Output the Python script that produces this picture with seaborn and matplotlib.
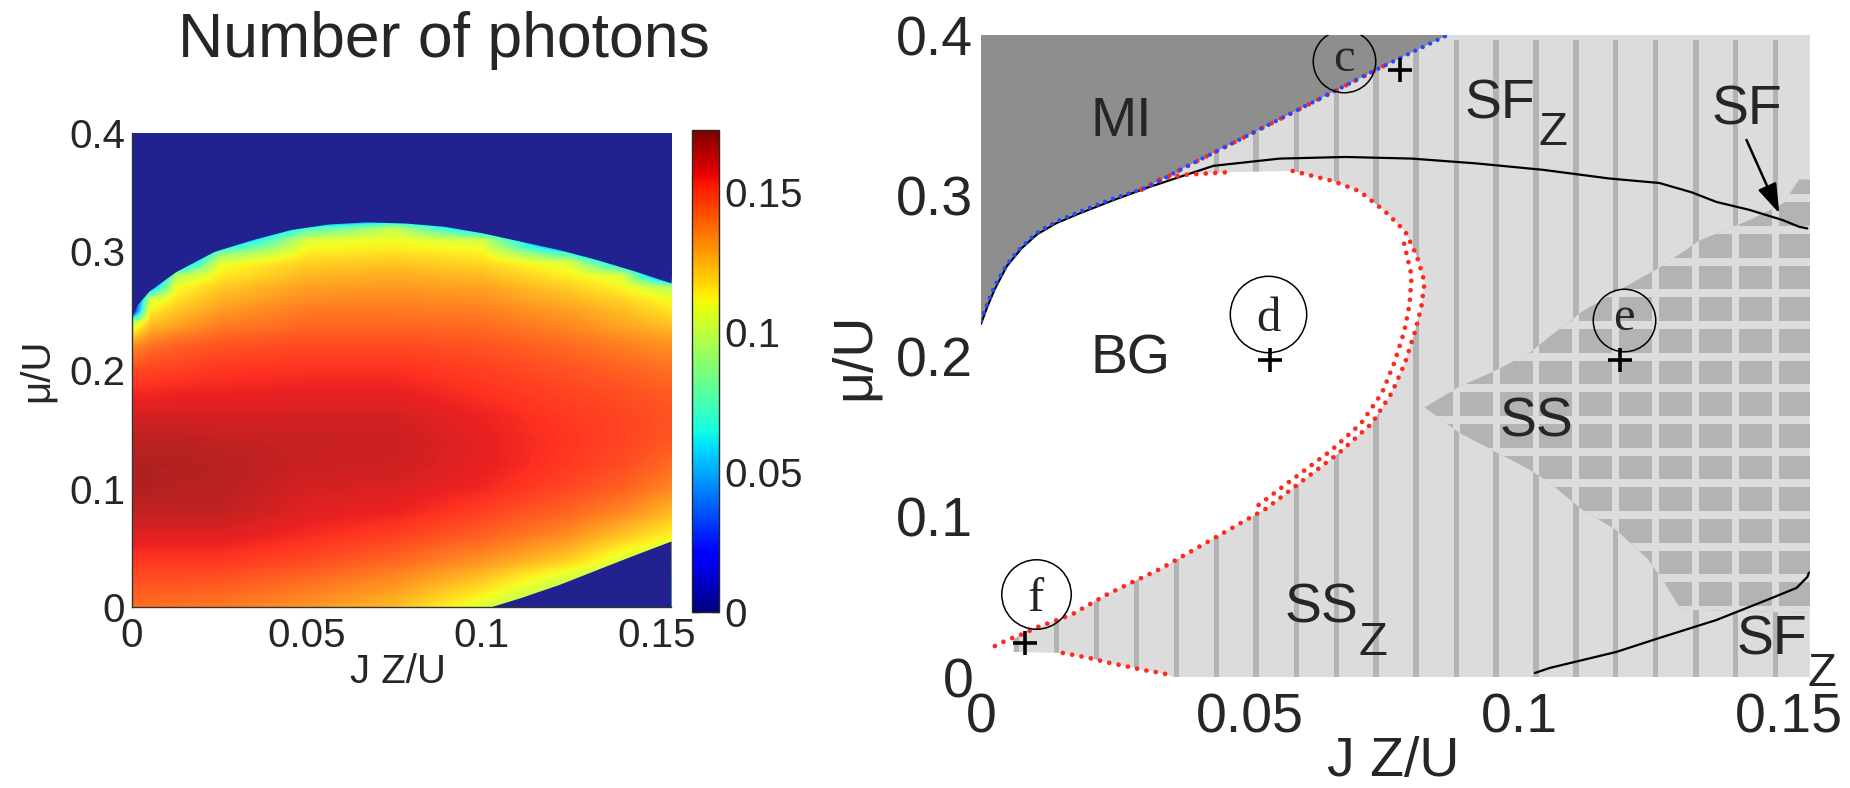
import numpy as np
import matplotlib
matplotlib.use("Agg")
import matplotlib.pyplot as plt
import seaborn as sns
from matplotlib.colors import ListedColormap, Normalize
from matplotlib.cm import ScalarMappable
from matplotlib.patches import Polygon, ArrowStyle
from matplotlib.transforms import Bbox, TransformedBbox

# ---------------- photon number map (left panel) ----------------
J_COLS = [0.0, 0.005, 0.0125, 0.025, 0.05, 0.075, 0.1, 0.125, 0.14, 0.154]
MU_ROWS = [0.00, 0.02, 0.04, 0.06, 0.08, 0.10, 0.12, 0.14, 0.16, 0.18, 0.20, 0.22,
           0.24, 0.25, 0.26, 0.27, 0.28, 0.29, 0.30, 0.31, 0.32, 0.33, 0.34]

n_j0000 = [0.140, 0.146, 0.152, 0.158, 0.163, 0.166, 0.166, 0.164, 0.160, 0.155, 0.148, 0.134,
           0.100, 0.012, 0.0, 0.0, 0.0, 0.0, 0.0, 0.0, 0.0, 0.0, 0.0]
n_j0050 = [0.140, 0.146, 0.152, 0.158, 0.163, 0.166, 0.166, 0.164, 0.160, 0.155, 0.149, 0.140,
           0.122, 0.114, 0.103, 0.040, 0.0, 0.0, 0.0, 0.0, 0.0, 0.0, 0.0]
n_j0125 = [0.139, 0.146, 0.152, 0.158, 0.163, 0.165, 0.166, 0.164, 0.160, 0.156, 0.150, 0.143,
           0.128, 0.122, 0.116, 0.110, 0.095, 0.030, 0.0, 0.0, 0.0, 0.0, 0.0]
n_j0250 = [0.138, 0.145, 0.152, 0.158, 0.163, 0.165, 0.165, 0.163, 0.160, 0.156, 0.152, 0.146,
           0.136, 0.131, 0.126, 0.121, 0.114, 0.108, 0.080, 0.030, 0.0, 0.0, 0.0]
n_j0500 = [0.132, 0.140, 0.148, 0.154, 0.158, 0.160, 0.162, 0.162, 0.160, 0.157, 0.153, 0.148,
           0.141, 0.138, 0.134, 0.130, 0.125, 0.120, 0.113, 0.107, 0.070, 0.000, 0.0]
n_j0750 = [0.124, 0.133, 0.142, 0.150, 0.156, 0.159, 0.161, 0.162, 0.160, 0.157, 0.153, 0.148,
           0.141, 0.138, 0.135, 0.131, 0.127, 0.122, 0.116, 0.110, 0.100, 0.020, 0.0]
n_j1000 = [0.106, 0.120, 0.133, 0.143, 0.150, 0.155, 0.157, 0.157, 0.156, 0.153, 0.150, 0.146,
           0.140, 0.137, 0.133, 0.129, 0.124, 0.118, 0.112, 0.103, 0.040, 0.0, 0.0]
n_j1250 = [0.085, 0.100, 0.120, 0.133, 0.142, 0.148, 0.151, 0.152, 0.151, 0.149, 0.146, 0.141,
           0.134, 0.130, 0.125, 0.120, 0.113, 0.106, 0.060, 0.0, 0.0, 0.0, 0.0]
n_j1400 = [0.080, 0.090, 0.105, 0.122, 0.135, 0.143, 0.147, 0.149, 0.149, 0.147, 0.143, 0.137,
           0.128, 0.124, 0.119, 0.112, 0.104, 0.048, 0.0, 0.0, 0.0, 0.0, 0.0]
n_j1540 = [0.070, 0.085, 0.098, 0.112, 0.125, 0.135, 0.141, 0.145, 0.146, 0.144, 0.140, 0.133,
           0.122, 0.116, 0.110, 0.096, 0.007, 0.0, 0.0, 0.0, 0.0, 0.0, 0.0]

# edges of the non-zero photon domain
edge_top_j = [0.0, 0.0016, 0.0049, 0.0126, 0.0235, 0.0345, 0.0454, 0.0564, 0.0673,
              0.0783, 0.0892, 0.1002, 0.111, 0.122, 0.133, 0.1439, 0.154]
edge_top_mu = [0.244, 0.255, 0.2665, 0.283, 0.300, 0.310, 0.3185, 0.3233, 0.325,
               0.324, 0.3213, 0.3157, 0.3087, 0.3016, 0.293, 0.2833, 0.2735]
edge_low_j = [0.1023, 0.111, 0.122, 0.133, 0.1439, 0.154]
edge_low_mu = [0.0, 0.0079, 0.019, 0.0318, 0.0444, 0.0557]

CBAR_TICKS = [0, 0.05, 0.1, 0.15]
CBAR_LABELS = ["0", "0.05", "0.1", "0.15"]
N_MAX = 0.172

# ---------------- phase diagram (right panel) ----------------
mi_edge_j = [0.0, 0.0012, 0.0026, 0.0048, 0.0075, 0.0104, 0.0140, 0.0184, 0.0245,
             0.0308, 0.037, 0.0493, 0.0616, 0.0738, 0.0867]
mi_edge_mu = [0.222, 0.233, 0.244, 0.257, 0.268, 0.2768, 0.2838, 0.290, 0.298,
              0.305, 0.316, 0.337, 0.358, 0.379, 0.400]

bg_j = [0.0, 0.0012, 0.0026, 0.0048, 0.0075, 0.0104, 0.0140, 0.0184, 0.0245, 0.0300,
        0.0334, 0.0383, 0.0457, 0.0579, 0.0654, 0.0703, 0.0751, 0.0788, 0.0810, 0.0824,
        0.0818, 0.0806, 0.0788, 0.0763, 0.0726, 0.0665, 0.0604, 0.0530, 0.0432, 0.0334,
        0.0236, 0.0169, 0.0132, 0.0106, 0.0072, 0.0060, 0.0060, 0.0152, 0.0202, 0.0240,
        0.0277, 0.0300, 0.0336, 0.0356, 0.0]
bg_mu = [0.222, 0.233, 0.244, 0.257, 0.268, 0.2768, 0.2838, 0.290, 0.298, 0.304,
         0.3106, 0.313, 0.3145, 0.3153, 0.309, 0.3027, 0.290, 0.2776, 0.262, 0.246,
         0.2306, 0.215, 0.196, 0.177, 0.158, 0.1396, 0.124, 0.105, 0.0863, 0.0675,
         0.0518, 0.039, 0.0343, 0.0312, 0.026, 0.0235, 0.0156, 0.015, 0.0118, 0.0087,
         0.0062, 0.0044, 0.0025, 0.0, 0.0]

ss_j = [0.0824, 0.0889, 0.0950, 0.1019, 0.1056, 0.1118, 0.1180, 0.1260, 0.1335, 0.1430,
        0.1490, 0.1520, 0.1545, 0.1545, 0.1300, 0.1270, 0.1240, 0.1180, 0.1118, 0.1056,
        0.1020, 0.0950, 0.0889]
ss_mu = [0.168, 0.181, 0.190, 0.202, 0.212, 0.228, 0.240, 0.255, 0.272, 0.285,
         0.295, 0.310, 0.310, 0.040, 0.042, 0.0586, 0.073, 0.0916, 0.104, 0.121,
         0.129, 0.1414, 0.152]

stripe_j = [0.0066, 0.0140, 0.0214, 0.0289, 0.0363, 0.0437, 0.0511, 0.0586, 0.0660, 0.0734,
            0.0808, 0.0883, 0.0957, 0.1031, 0.1105, 0.1179, 0.1253, 0.1328, 0.1402, 0.1476]
ss_rows_mu = [0.0417, 0.0615, 0.0812, 0.1009, 0.1206, 0.1404, 0.1601, 0.1799, 0.1996,
              0.2193, 0.2391, 0.2588, 0.2785, 0.2983]

dome_j = [0.0, 0.0012, 0.0026, 0.0048, 0.0075, 0.0104, 0.0140, 0.0184, 0.0245, 0.031,
          0.0432, 0.0555, 0.0677, 0.080, 0.092, 0.1044, 0.1167, 0.126, 0.132, 0.1366,
          0.1428, 0.1489, 0.152, 0.1535]
dome_mu = [0.220, 0.231, 0.242, 0.256, 0.267, 0.2758, 0.2828, 0.289, 0.297, 0.305,
           0.3185, 0.323, 0.324, 0.323, 0.320, 0.316, 0.3106, 0.3078, 0.302, 0.296,
           0.291, 0.2847, 0.2805, 0.2795]

sfz_j = [0.1029, 0.1056, 0.118, 0.126, 0.1366, 0.146, 0.1515, 0.1535, 0.1538]
sfz_mu = [0.0025, 0.0056, 0.0156, 0.0243, 0.0355, 0.048, 0.0555, 0.0623, 0.065]

red_top_j = [0.0300, 0.0334, 0.0383, 0.0457]
red_top_mu = [0.3040, 0.3106, 0.3130, 0.3145]
red_arc_j = [0.0579, 0.0654, 0.0703, 0.0751, 0.0788, 0.0810, 0.0824, 0.0818, 0.0806, 0.0788,
             0.0763, 0.0726, 0.0665, 0.0604, 0.0530, 0.0432, 0.0334, 0.0236, 0.0169, 0.0132,
             0.0106, 0.0072, 0.0048, 0.0011]
red_arc_mu = [0.3153, 0.3090, 0.3027, 0.2900, 0.2776, 0.2620, 0.2460, 0.2306, 0.2150, 0.1960,
              0.1770, 0.1580, 0.1396, 0.1240, 0.1050, 0.0863, 0.0675, 0.0518, 0.0390, 0.0343,
              0.0312, 0.0260, 0.0230, 0.0168]
red_in_j = [0.0786, 0.0800, 0.0796, 0.0786, 0.0768, 0.0745, 0.0706, 0.0650, 0.0590, 0.0515]
red_in_mu = [0.270, 0.250, 0.232, 0.215, 0.196, 0.177, 0.158, 0.141, 0.126, 0.107]
red_low_j = [0.0152, 0.0202, 0.0240, 0.0277, 0.0300, 0.0336, 0.0356]
red_low_mu = [0.0150, 0.0118, 0.0087, 0.0062, 0.0044, 0.0025, 0.0006]
red_mi_j = [0.0290, 0.0308, 0.037, 0.0493, 0.0616, 0.0750]
red_mi_mu = [0.3025, 0.305, 0.316, 0.337, 0.358, 0.381]

point_names = ["c", "d", "e", "f"]
point_j = [0.0778, 0.0537, 0.1187, 0.0082]
point_mu = [0.378, 0.1975, 0.1975, 0.0212]
circle_j = [0.0675, 0.0534, 0.1194, 0.0102]
circle_mu = [0.384, 0.2259, 0.2224, 0.0517]
circle_size = [45, 55, 45, 50]

TICKS_J = [0, 0.05, 0.1, 0.15]
TICK_J_LABELS = ["0", "0.05", "0.1", "0.15"]
TICKS_MU = [0, 0.1, 0.2, 0.3, 0.4]
TICK_MU_LABELS = ["0", "0.1", "0.2", "0.3", "0.4"]
J_MAX = 0.154
MU_MAX = 0.4

# ---------------- figure ----------------
sns.set_theme(style="white")
plt.rcParams["font.family"] = ["Liberation Sans", "DejaVu Sans"]

W, H = 1850, 788
fig = plt.figure(figsize=(W / 100, H / 100), dpi=100)
fig.patch.set_facecolor("white")


def frac_axes(x0, y0, x1, y1):
    return fig.add_axes([x0 / W, 1 - y1 / H, (x1 - x0) / W, (y1 - y0) / H])


ax1 = frac_axes(131.6, 133, 671, 607)
cax = frac_axes(692, 130, 719, 612)
ax2 = frac_axes(981, 35, 1810, 677)

# ---- left: photon number ----
jet = plt.get_cmap("jet")
soft = jet(np.linspace(0, 1, 256))
soft[:, :3] = soft[:, :3] * 0.87 + 0.13
soft_jet = ListedColormap(soft)
norm = Normalize(0, N_MAX)

photons = np.column_stack([n_j0000, n_j0050, n_j0125, n_j0250, n_j0500,
                           n_j0750, n_j1000, n_j1250, n_j1400, n_j1540])
# bilinear resampling of the table onto the display raster
fine_j = np.linspace(0, J_MAX, 540)
fine_mu = np.linspace(0, MU_MAX, 480)
by_col = np.array([np.interp(fine_mu, MU_ROWS, photons[:, k]) for k in range(len(J_COLS))])
field = np.array([np.interp(fine_j, J_COLS, by_col[:, r]) for r in range(len(fine_mu))])
ax1.imshow(field, origin="lower", extent=(0, J_MAX, 0, MU_MAX), aspect="auto",
           cmap=soft_jet, norm=norm, interpolation="nearest", zorder=1)
outside = soft_jet(0.0)
ax1.fill_between(edge_top_j, edge_top_mu, MU_MAX, color=outside, lw=0, zorder=2)
ax1.fill_between(edge_low_j, 0, edge_low_mu, color=outside, lw=0, zorder=2)
ax1.set_xlim(0, J_MAX)
ax1.set_ylim(0, MU_MAX)
ax1.set_axisbelow(True)
ax1.set_xticks(TICKS_J)
ax1.set_xticklabels(TICK_J_LABELS)
ax1.set_yticks(TICKS_MU)
ax1.set_yticklabels(TICK_MU_LABELS)
ax1.tick_params(axis="x", labelsize=29, pad=7, length=0)
ax1.tick_params(axis="y", labelsize=29, pad=4.5, length=0)
for side in ["top", "right"]:
    ax1.spines[side].set_visible(False)
for side in ["left", "bottom"]:
    ax1.spines[side].set_color("#333333")
    ax1.spines[side].set_linewidth(1.0)
    ax1.spines[side].set_zorder(3)

ax1.set_ylabel("μ/U", fontsize=29)
ax1.yaxis.set_label_coords(-0.140, 0.5)
xl1 = ax1.set_xlabel("J Z/U", fontsize=29)
ax1.xaxis.set_label_coords(0.494, -0.097)
xl1.set_clip_box(TransformedBbox(Bbox.from_extents(0, 1 - 683 / H, 1, 1), fig.transFigure))
xl1.set_clip_on(True)

sm = ScalarMappable(norm=norm, cmap=jet)
cb = fig.colorbar(sm, cax=cax)
cb.set_ticks(CBAR_TICKS)
cb.set_ticklabels(CBAR_LABELS)
cb.outline.set_linewidth(1.0)
cax.tick_params(direction="in", length=6, width=1, labelsize=29, pad=4,
                left=True, right=True)

fig.text(444 / W, 1 - 40 / H, "Number of photons", fontsize=45,
         ha="center", va="center")

# ---- right: phase diagram ----
LIGHT = "#dcdcdc"
MID = "#b3b3b3"
DARK = "#8e8e8e"
RED = "#ff2a1e"
BLUE = "#2448ff"

ax2.set_xlim(0, J_MAX)
ax2.set_ylim(0, MU_MAX)
ax2.set_facecolor(LIGHT)
for side in ax2.spines.values():
    side.set_visible(False)

for xs in stripe_j:
    ax2.axvspan(xs - 0.0005, xs + 0.0005, ymax=0.992, color=MID, lw=0, zorder=1)

ss_patch = Polygon(np.column_stack([ss_j, ss_mu]), closed=True, facecolor=MID,
                   edgecolor="none", zorder=2)
ax2.add_patch(ss_patch)
for xs in stripe_j:
    v = ax2.axvspan(xs - 0.00065, xs + 0.00065, color=LIGHT, lw=0, zorder=3)
    v.set_clip_path(ss_patch)
for ys in ss_rows_mu:
    h = ax2.axhspan(ys - 0.0025, ys + 0.0025, color=LIGHT, lw=0, zorder=3)
    h.set_clip_path(ss_patch)

ax2.add_patch(Polygon(np.column_stack([bg_j, bg_mu]), closed=True, facecolor="white",
                      edgecolor="none", zorder=4))
mi_poly = np.column_stack([mi_edge_j + [0.0], mi_edge_mu + [MU_MAX]])
ax2.add_patch(Polygon(mi_poly, closed=True, facecolor=DARK, edgecolor="none", zorder=4))

# phase boundaries
sns.lineplot(x=dome_j, y=dome_mu, ax=ax2, color="black", linewidth=1.6,
             sort=False, estimator=None, zorder=6)
sns.lineplot(x=sfz_j, y=sfz_mu, ax=ax2, color="black", linewidth=1.6,
             sort=False, estimator=None, zorder=6)

red_kw = dict(color=RED, lw=3.4, dash_capstyle="round", solid_capstyle="round", zorder=7)
for xs, ys in [(red_top_j, red_top_mu), (red_arc_j, red_arc_mu),
               (red_in_j, red_in_mu), (red_low_j, red_low_mu)]:
    ax2.plot(xs, ys, linestyle=(0, (0.01, 2.0)), **red_kw)
ax2.plot(red_mi_j, red_mi_mu, linestyle=(1.2, (0.01, 2.2)), **red_kw)
ax2.plot(mi_edge_j, mi_edge_mu, color=BLUE, lw=3.1, linestyle=(0, (0.01, 1.9)),
         dash_capstyle="round", zorder=7)

# marked points
sns.scatterplot(x=point_j, y=point_mu, ax=ax2, marker="+", s=290, color="black",
                linewidth=2.6, zorder=8, legend=False)
for name, cj, cm, size in zip(point_names, circle_j, circle_mu, circle_size):
    ax2.plot([cj], [cm], marker="o", ms=size, mfc="none", mec="black", mew=1.1,
             ls="none", zorder=8)
    lift = 5 if name in ("c", "e") else 0
    ax2.annotate(name, xy=(cj, cm), xytext=(0, lift), textcoords="offset points",
                 ha="center", va="center_baseline", fontsize=35,
                 family=["Liberation Serif", "DejaVu Serif"], zorder=9)

# phase names
label_kw = dict(fontsize=40, ha="center", va="center_baseline", zorder=9)
sub_kw = dict(fontsize=34, ha="center", va="center_baseline", zorder=9)
ax2.text(0.026, 0.3495, "MI", **label_kw)
ax2.text(0.0277, 0.2016, "BG", **label_kw)
ax2.text(0.0964, 0.3607, "SF", **label_kw)
ax2.text(0.1062, 0.342, "Z", **sub_kw)
ax2.text(0.1422, 0.3564, "SF", **label_kw)
ax2.text(0.1032, 0.162, "SS", **label_kw)
ax2.text(0.0633, 0.0464, "SS", **label_kw)
ax2.text(0.0728, 0.0246, "Z", **sub_kw)
ax2.text(0.1469, 0.0262, "SF", **label_kw)
ax2.text(0.1563, 0.0050, "Z", clip_on=False, **sub_kw)

ax2.annotate("", xy=(0.1483, 0.2889), xytext=(0.1422, 0.3346),
             arrowprops=dict(arrowstyle=ArrowStyle("-|>", head_length=0.9, head_width=0.3),
                             color="black", lw=1.8, mutation_scale=20,
                             shrinkA=0, shrinkB=0), zorder=9)

ax2.set_xticks(TICKS_J)
ax2.set_xticklabels(TICK_J_LABELS)
ax2.set_yticks(TICKS_MU)
ax2.set_yticklabels(TICK_MU_LABELS)
ax2.tick_params(axis="x", labelsize=40, pad=11, length=0)
ax2.tick_params(axis="y", labelsize=40, pad=5.5, length=0)
ax2.set_ylabel("μ/U", fontsize=40)
ax2.yaxis.set_label_coords(-0.1206, 0.5)
ax2.set_xlabel("J Z/U", fontsize=40)
ax2.xaxis.set_label_coords(0.497, -0.092)

fig.savefig("out.png", dpi=100)
